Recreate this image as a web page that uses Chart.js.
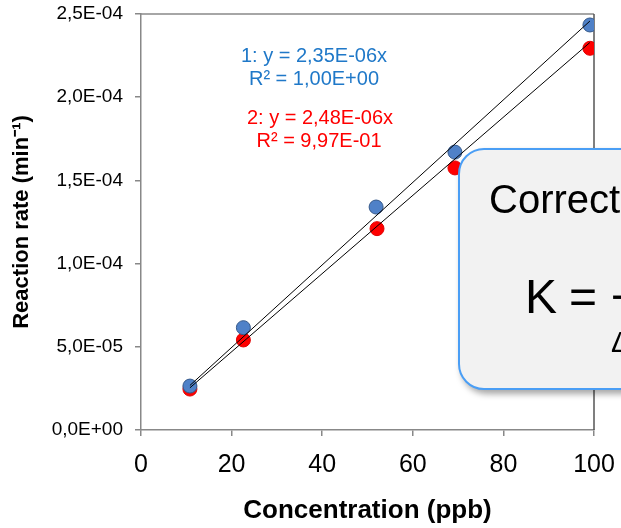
<!DOCTYPE html>
<html>
<head>
<meta charset="utf-8">
<script src="https://cdn.jsdelivr.net/npm/chart.js@4.4.0/dist/chart.umd.min.js"></script>
<style>
  html, body { margin: 0; padding: 0; background: #fff; }
  body { width: 621px; height: 528px; overflow: hidden; position: relative; font-family: "Liberation Sans", Arial, sans-serif; }
  #wrap { position: absolute; left: 0; top: 0; width: 621px; height: 528px; }
  #box {
    position: absolute; left: 458px; top: 148px; width: 220px; height: 238px;
    background: #f2f2f2; border: 2px solid #4a9ef5; border-radius: 26px;
    box-shadow: 3px 4px 6px rgba(0,0,0,0.35);
  }
  .t { position: absolute; color: #000; white-space: nowrap; line-height: 1; }
</style>
</head>
<body>
<div id="wrap"><canvas id="chart" width="621" height="528"></canvas></div>
<div id="box"></div>
<span class="t" style="left:489px; top:179px; font-size:40px;">Correct</span>
<span class="t" style="left:525px; top:273px; font-size:48px;">K<span style="margin-left:12px">=</span> &minus;</span>
<span class="t" style="left:611px; top:327px; font-size:30px;">&Delta;</span>
<script>
var concBlue = [10.8, 22.6, 51.9, 69.3, 99.1];
var rateBlue = [2.64e-5, 6.15e-5, 1.34e-4, 1.67e-4, 2.434e-4];
var concRed = [10.8, 22.6, 52.1, 69.3, 99.1];
var rateRed = [2.46e-5, 5.41e-5, 1.21e-4, 1.575e-4, 2.294e-4];
var slopes = [2.35e-6, 2.48e-6];
var xTicks = [0, 20, 40, 60, 80, 100];
var yTicks = [0, 5e-5, 1e-4, 1.5e-4, 2e-4, 2.5e-4];
var labels1 = ["1: y = 2,35E-06x", "R\u00b2 = 1,00E+00"];
var labels2 = ["2: y = 2,48E-06x", "R\u00b2 = 9,97E-01"];

function toPts(xs, ys) {
    return xs.map(function (x, i) { return {x: x, y: ys[i]}; });
}
function trend(xs, k) {
    var a = Math.min.apply(null, xs), b = Math.max.apply(null, xs);
    return [{x: a, y: k * a}, {x: b, y: k * b}];
}
function sci(v) {
    var p = v.toExponential(1).split('e');
    var e = parseInt(p[1], 10);
    var s = e < 0 ? '-' : '+';
    e = Math.abs(e);
    return p[0].replace('.', ',') + 'E' + s + (e < 10 ? '0' + e : e);
}

var frame = {
    id: 'frame',
    beforeDatasetsDraw: function (chart) {
        var a = chart.chartArea, c = chart.ctx;
        c.save();
        c.lineWidth = 1.5;
        c.strokeStyle = '#888';
        c.beginPath();
        c.moveTo(a.left, a.top);
        c.lineTo(a.right, a.top);
        c.stroke();
        c.strokeStyle = '#555';
        c.beginPath();
        c.moveTo(a.right, a.top);
        c.lineTo(a.right, a.bottom);
        c.stroke();
        c.restore();
    },
    afterDraw: function (chart) {
        var c = chart.ctx;
        c.save();
        c.font = '20px "Liberation Sans", Arial, sans-serif';
        c.textAlign = 'center';
        c.textBaseline = 'middle';
        c.fillStyle = '#1f78c8';
        c.fillText(labels1[0], 314, 56);
        c.fillText(labels1[1], 314, 79);
        c.fillStyle = '#ff0000';
        c.fillText(labels2[0], 320, 118);
        c.fillText(labels2[1], 319, 141);
        c.restore();
    }
};

window.onload = function () {
    var ctx = document.getElementById("chart").getContext("2d");
    window.myChart = new Chart(ctx, {
        type: 'scatter',
        data: {
            datasets: [{
                type: 'line',
                data: trend(concBlue, slopes[1]),
                borderColor: '#000',
                borderWidth: 1,
                pointRadius: 0,
                order: 0
            }, {
                type: 'line',
                data: trend(concRed, slopes[0]),
                borderColor: '#000',
                borderWidth: 1,
                pointRadius: 0,
                order: 0
            }, {
                data: toPts(concRed, rateRed),
                backgroundColor: '#ff0000',
                borderColor: '#e00000',
                borderWidth: 1,
                pointRadius: 7,
                order: 2
            }, {
                data: toPts(concBlue, rateBlue),
                backgroundColor: '#4f81c8',
                borderColor: '#35598a',
                borderWidth: 1,
                pointRadius: 7,
                order: 1
            }]
        },
        options: {
            responsive: false,
            animation: false,
            layout: { padding: { top: 14, right: 27, left: 0, bottom: 0 } },
            plugins: { legend: { display: false }, tooltip: { enabled: false } },
            scales: {
                x: {
                    type: 'linear',
                    min: 0, max: 100,
                    afterBuildTicks: function (s) { s.ticks = xTicks.map(function (v) { return {value: v}; }); },
                    afterFit: function (s) { s.height = 98; s.paddingLeft = 0; s.paddingRight = 0; },
                    grid: { drawOnChartArea: false, tickLength: 6, color: '#888', lineWidth: 1.5 },
                    border: { color: '#888', width: 1.5 },
                    ticks: { color: '#000', font: { size: 25, family: '"Liberation Sans", Arial' }, padding: 14, maxRotation: 0 },
                    title: { display: true, text: 'Concentration (ppb)', color: '#000',
                             font: { size: 26, weight: 'bold', family: '"Liberation Sans", Arial' }, padding: { top: 0, bottom: 2 } }
                },
                y: {
                    min: 0, max: 2.5e-4,
                    afterBuildTicks: function (s) { s.ticks = yTicks.map(function (v) { return {value: v}; }); },
                    afterFit: function (s) { s.width = 141; s.paddingTop = 0; s.paddingBottom = 0; },
                    grid: { drawOnChartArea: false, tickLength: 6, color: '#888', lineWidth: 1.5 },
                    border: { color: '#888', width: 1.5 },
                    ticks: { color: '#000', font: { size: 19, family: '"Liberation Sans", Arial' }, padding: 12,
                             callback: function (v) { return sci(v); } },
                    title: { display: true, text: 'Reaction rate (min\u207b\u00b9)', color: '#000',
                             font: { size: 22, weight: 'bold', family: '"Liberation Sans", Arial' }, padding: { top: 9, bottom: 4 } }
                }
            }
        },
        plugins: [frame]
    });
};
</script>
</body>
</html>
